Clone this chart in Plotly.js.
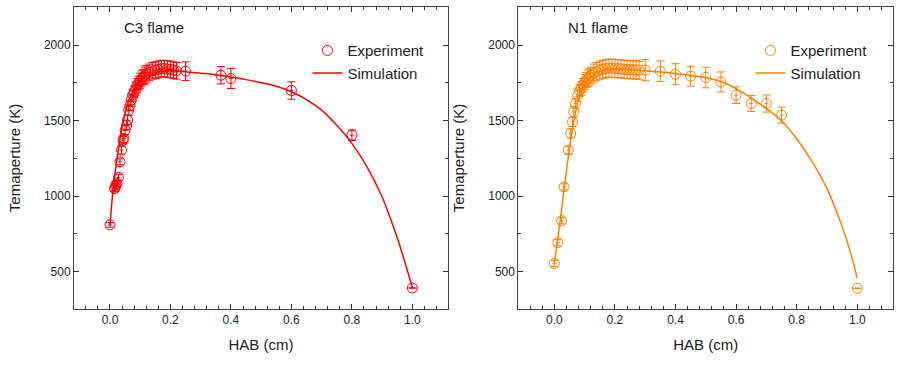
<!DOCTYPE html>
<html>
<head>
<meta charset="utf-8">
<script src="https://cdn.plot.ly/plotly-3.0.1.min.js"></script>
<style>html,body{margin:0;padding:0;background:#fff;}#chart{width:899px;height:365px;}</style>
</head>
<body>
<div id="chart"></div>
<script>
// C3 flame (left)
const c3ExpX = [0, 0.015, 0.018, 0.02, 0.023, 0.028, 0.033, 0.038, 0.043, 0.046, 0.05, 0.055, 0.058, 0.062, 0.066, 0.07, 0.075, 0.08, 0.085, 0.09, 0.095, 0.1, 0.105, 0.11, 0.115, 0.12, 0.13, 0.14, 0.15, 0.16, 0.17, 0.18, 0.19, 0.2, 0.21, 0.22, 0.25, 0.367, 0.4, 0.6, 0.8, 1.0];
const c3ExpT = [810, 1050, 1060, 1075, 1085, 1125, 1228, 1305, 1371, 1382, 1437, 1470, 1504, 1570, 1600, 1636, 1669, 1691, 1710, 1735, 1750, 1765, 1780, 1790, 1800, 1810, 1820, 1830, 1835, 1840, 1845, 1845, 1842, 1840, 1835, 1830, 1828, 1801, 1779, 1700, 1404, 392];
const c3ExpErr = [15, 20, 20, 20, 20, 20, 20, 25, 25, 25, 30, 30, 30, 35, 35, 40, 40, 40, 45, 45, 45, 50, 50, 50, 55, 55, 55, 55, 55, 55, 55, 55, 55, 55, 55, 55, 62, 57, 66, 58, 35, 0];
const c3SimX = [0, 0.01, 0.02, 0.03, 0.04, 0.05, 0.06, 0.07, 0.08, 0.09, 0.1, 0.12, 0.15, 0.2, 0.25, 0.3, 0.35, 0.4, 0.45, 0.5, 0.55, 0.6, 0.65, 0.7, 0.75, 0.8, 0.85, 0.9, 0.925, 0.95, 0.975, 1.0];
const c3SimT = [810, 1040, 1200, 1340, 1460, 1550, 1620, 1670, 1710, 1740, 1765, 1795, 1820, 1830, 1825, 1815, 1805, 1790, 1772, 1752, 1728, 1692, 1640, 1570, 1470, 1350, 1195, 995, 866, 725, 565, 395];

// N1 flame (right)
const n1ExpX = [0, 0.011, 0.024, 0.032, 0.046, 0.054, 0.06, 0.064, 0.07, 0.077, 0.083, 0.088, 0.094, 0.1, 0.105, 0.11, 0.115, 0.12, 0.13, 0.14, 0.15, 0.16, 0.17, 0.18, 0.19, 0.2, 0.21, 0.22, 0.23, 0.24, 0.25, 0.26, 0.27, 0.28, 0.3, 0.35, 0.4, 0.45, 0.5, 0.55, 0.6, 0.65, 0.7, 0.75, 1.0];
const n1ExpT = [555, 692, 837, 1062, 1305, 1416, 1492, 1559, 1614, 1669, 1700, 1713, 1735, 1757, 1770, 1780, 1790, 1800, 1815, 1825, 1835, 1840, 1845, 1848, 1848, 1845, 1845, 1843, 1840, 1840, 1838, 1838, 1836, 1835, 1835, 1828, 1808, 1795, 1786, 1757, 1669, 1614, 1614, 1537, 390];
const n1ExpErr = [20, 20, 20, 20, 25, 30, 30, 35, 35, 40, 40, 45, 45, 50, 50, 55, 55, 55, 60, 60, 60, 60, 60, 60, 60, 60, 60, 60, 60, 60, 60, 60, 60, 60, 70, 68, 70, 66, 68, 66, 55, 53, 57, 53, 0];
const n1SimX = [0, 0.01, 0.02, 0.03, 0.04, 0.05, 0.06, 0.07, 0.08, 0.09, 0.1, 0.12, 0.15, 0.2, 0.25, 0.3, 0.35, 0.4, 0.45, 0.5, 0.55, 0.6, 0.65, 0.7, 0.75, 0.8, 0.85, 0.9, 0.95, 0.975, 1.0];
const n1SimT = [560, 700, 850, 1010, 1170, 1320, 1450, 1560, 1640, 1700, 1740, 1790, 1825, 1840, 1838, 1830, 1822, 1812, 1800, 1785, 1760, 1712, 1650, 1580, 1500, 1380, 1232, 1050, 800, 645, 458];

const xTickVals = [0, 0.2, 0.4, 0.6, 0.8, 1.0];
const xTickText = ['0.0', '0.2', '0.4', '0.6', '0.8', '1.0'];
const yTickVals = [500, 1000, 1500, 2000];

const RED = '#ff0000', ORANGE = '#ff8000';
const FONT = 'Liberation Sans, Arial, sans-serif';

function expTrace(x, y, err, color, xa, ya, leg) {
  return {
    x: x, y: y, type: 'scatter', mode: 'markers', name: 'Experiment',
    xaxis: xa, yaxis: ya, legend: leg,
    marker: {symbol: 'circle-open', size: 10, color: color, line: {width: 1, color: color}},
    error_y: {type: 'data', array: err, visible: true, color: color, thickness: 1, width: 4},
    error_x: {type: 'constant', value: 0.006, visible: true, color: color, thickness: 1, width: 0}
  };
}
function simTrace(x, y, color, xa, ya, leg) {
  return {
    x: x, y: y, type: 'scatter', mode: 'lines', name: 'Simulation',
    xaxis: xa, yaxis: ya, legend: leg,
    line: {color: color, width: 1.5, shape: 'spline', smoothing: 0.8}
  };
}

const data = [
  simTrace(c3SimX, c3SimT, RED, 'x', 'y', 'legend'),
  expTrace(c3ExpX, c3ExpT, c3ExpErr, RED, 'x', 'y', 'legend'),
  simTrace(n1SimX, n1SimT, ORANGE, 'x2', 'y2', 'legend2'),
  expTrace(n1ExpX, n1ExpT, n1ExpErr, ORANGE, 'x2', 'y2', 'legend2')
];

function xAxis(domain, anchor) {
  return {
    domain: domain, anchor: anchor, range: [-0.119, 1.118],
    tickvals: xTickVals, ticktext: xTickText,
    ticks: 'inside', ticklen: 5, tickwidth: 1, tickcolor: '#333',
    minor: {dtick: 0.04, tick0: 0, ticks: 'inside', ticklen: 3, tickcolor: '#333', showgrid: false},
    showline: true, linecolor: '#444', linewidth: 1, mirror: 'allticks',
    showgrid: false, zeroline: false,
    tickfont: {family: FONT, size: 12, color: '#222'},
    title: {text: 'HAB (cm)', font: {family: FONT, size: 15, color: '#222'}, standoff: 13}
  };
}
function yAxis(anchor) {
  return {
    anchor: anchor, range: [253, 2253],
    tickvals: yTickVals,
    ticks: 'inside', ticklen: 5, tickwidth: 1, tickcolor: '#333',
    minor: {dtick: 250, tick0: 0, ticks: 'inside', ticklen: 3, tickcolor: '#333', showgrid: false},
    showline: true, linecolor: '#444', linewidth: 1, mirror: 'allticks',
    showgrid: false, zeroline: false,
    tickfont: {family: FONT, size: 12, color: '#222'},
    title: {text: 'Temaperture (K)', font: {family: FONT, size: 15, color: '#222'}, standoff: 19}
  };
}

const leftDom = [0, 0.4567];
const rightDom = [0.5425, 1];

const layout = {
  width: 899, height: 365,
  margin: {l: 74, r: 6, t: 7, b: 56},
  paper_bgcolor: '#ffffff', plot_bgcolor: '#ffffff',
  font: {family: FONT, color: '#222'},
  xaxis: xAxis(leftDom, 'y'),
  yaxis: yAxis('x'),
  xaxis2: xAxis(rightDom, 'y2'),
  yaxis2: yAxis('x2'),
  showlegend: true,
  legend: {x: 0.285, y: 0.91, xanchor: 'left', yanchor: 'top', bgcolor: 'rgba(0,0,0,0)',
           font: {family: FONT, size: 15, color: '#222'}, traceorder: 'reversed', tracegroupgap: 0, itemwidth: 30},
  legend2: {x: 0.826, y: 0.91, xanchor: 'left', yanchor: 'top', bgcolor: 'rgba(0,0,0,0)',
           font: {family: FONT, size: 15, color: '#222'}, traceorder: 'reversed', tracegroupgap: 0, itemwidth: 30},
  annotations: [
    {text: 'C3 flame', xref: 'paper', yref: 'paper', x: (122 - 74) / 819, y: 1 - (27 - 7) / 302,
     xanchor: 'left', yanchor: 'middle', showarrow: false, font: {family: FONT, size: 15, color: '#222'}},
    {text: 'N1 flame', xref: 'paper', yref: 'paper', x: (566 - 74) / 819, y: 1 - (27 - 7) / 302,
     xanchor: 'left', yanchor: 'middle', showarrow: false, font: {family: FONT, size: 15, color: '#222'}}
  ]
};

Plotly.newPlot('chart', data, layout, {displayModeBar: false, responsive: false});
</script>
</body>
</html>
